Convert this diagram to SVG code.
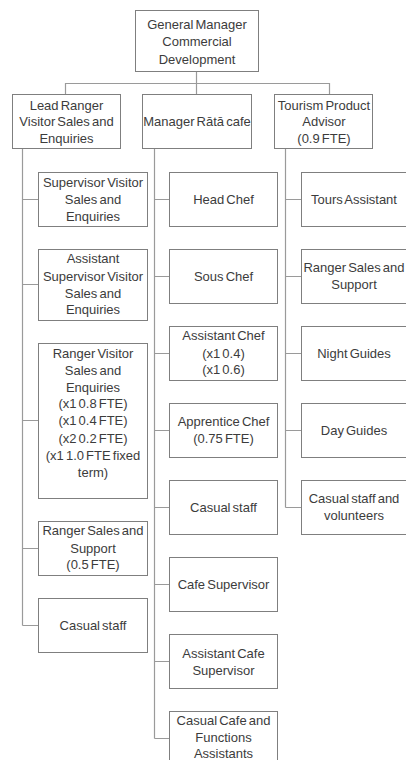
<svg xmlns="http://www.w3.org/2000/svg" width="406" height="760" viewBox="0 0 406 760">
<style>
.b{fill:#fff;stroke:#7f7f7f;stroke-width:1}
.c{fill:none;stroke:#9a9a9a;stroke-width:1.2}
text{font-family:"Liberation Sans",Arial,sans-serif;font-size:13px;fill:#3c3c3c;text-anchor:middle;word-spacing:-1.5px}
</style>
<rect width="406" height="760" fill="#fff"/>
<g id="connectors">
<path class="c" d="M196.5 71V94M65.5 83.5H329.5M65.5 83V94M329.5 83V94"/>
<path class="c" d="M22.5 148V625.5M22.5 199.5H38M22.5 284.5H38M22.5 420.5H38M22.5 548.5H38M22.5 625.5H38"/>
<path class="c" d="M154.5 148V738.5M154.5 199.5H169M154.5 276.5H169M154.5 353.5H169M154.5 430.5H169M154.5 507.5H169M154.5 584.5H169M154.5 661.5H169M154.5 738.5H169"/>
<path class="c" d="M285.5 148V507.5M285.5 199.5H301M285.5 276.5H301M285.5 353.5H301M285.5 430.5H301M285.5 507.5H301"/>
</g>
<g id="gm"><rect class="b" x="135.5" y="10.5" width="123" height="61"/><text x="197" y="28.5">General Manager</text><text x="197" y="46">Commercial</text><text x="197" y="63.5">Development</text></g>
<g id="lead"><rect class="b" x="12.5" y="94.5" width="108" height="54"/><text x="66.5" y="109.5">Lead Ranger</text><text x="66.5" y="126">Visitor Sales and</text><text x="66.5" y="143">Enquiries</text></g>
<g id="manager"><rect class="b" x="142.5" y="94.5" width="109" height="54"/><text x="197" y="126">Manager Rātā cafe</text></g>
<g id="tourism"><rect class="b" x="274.5" y="94.5" width="98" height="54"/><text x="324" y="109.5">Tourism Product</text><text x="324" y="126">Advisor</text><text x="324" y="143">(0.9 FTE)</text></g>

<g id="supervisor"><rect class="b" x="38.5" y="172.5" width="109" height="54"/><text x="93" y="186.5">Supervisor Visitor</text><text x="93" y="203.5">Sales and</text><text x="93" y="220.5">Enquiries</text></g>
<g id="asstsupervisor"><rect class="b" x="38.5" y="249.5" width="109" height="71"/><text x="93" y="263">Assistant</text><text x="93" y="280.5">Supervisor Visitor</text><text x="93" y="297.5">Sales and</text><text x="93" y="314">Enquiries</text></g>
<g id="rangervisitor"><rect class="b" x="38.5" y="343.5" width="109" height="155"/><text x="93" y="357.5">Ranger Visitor</text><text x="93" y="374.5">Sales and</text><text x="93" y="391.5">Enquiries</text><text x="93" y="408">(x1 0.8 FTE)</text><text x="93" y="425">(x1 0.4 FTE)</text><text x="93" y="442.5">(x2 0.2 FTE)</text><text x="93" y="459.5">(x1 1.0 FTE fixed</text><text x="93" y="477">term)</text></g>
<g id="rangersales1"><rect class="b" x="38.5" y="521.5" width="109" height="54"/><text x="93" y="535">Ranger Sales and</text><text x="93" y="552.5">Support</text><text x="93" y="569">(0.5 FTE)</text></g>
<g id="casual1"><rect class="b" x="38.5" y="598.5" width="109" height="54"/><text x="93" y="630">Casual staff</text></g>

<g id="headchef"><rect class="b" x="169.5" y="172.5" width="108" height="54"/><text x="223.5" y="204">Head Chef</text></g>
<g id="souschef"><rect class="b" x="169.5" y="249.5" width="108" height="54"/><text x="223.5" y="281">Sous Chef</text></g>
<g id="asstchef"><rect class="b" x="169.5" y="326.5" width="108" height="54"/><text x="223.5" y="339.5">Assistant Chef</text><text x="223.5" y="357.5">(x1 0.4)</text><text x="223.5" y="374">(x1 0.6)</text></g>
<g id="apprentice"><rect class="b" x="169.5" y="403.5" width="108" height="54"/><text x="223.5" y="425.5">Apprentice Chef</text><text x="223.5" y="443">(0.75 FTE)</text></g>
<g id="casual2"><rect class="b" x="169.5" y="480.5" width="108" height="54"/><text x="223.5" y="512">Casual staff</text></g>
<g id="cafesup"><rect class="b" x="169.5" y="557.5" width="108" height="54"/><text x="223.5" y="589">Cafe Supervisor</text></g>
<g id="asstcafesup"><rect class="b" x="169.5" y="634.5" width="108" height="54"/><text x="223.5" y="657.5">Assistant Cafe</text><text x="223.5" y="675">Supervisor</text></g>
<g id="casualcafe"><rect class="b" x="169.5" y="711.5" width="108" height="54"/><text x="223.5" y="725">Casual Cafe and</text><text x="223.5" y="741.5">Functions</text><text x="223.5" y="757.5">Assistants</text></g>

<g id="tours"><rect class="b" x="301.5" y="172.5" width="108" height="54"/><text x="354" y="204">Tours Assistant</text></g>
<g id="rangersales2"><rect class="b" x="301.5" y="249.5" width="108" height="54"/><text x="354" y="272">Ranger Sales and</text><text x="354" y="289">Support</text></g>
<g id="night"><rect class="b" x="301.5" y="326.5" width="108" height="54"/><text x="354" y="358">Night Guides</text></g>
<g id="day"><rect class="b" x="301.5" y="403.5" width="108" height="54"/><text x="354" y="435">Day Guides</text></g>
<g id="casual3"><rect class="b" x="301.5" y="480.5" width="108" height="54"/><text x="354" y="502.5">Casual staff and</text><text x="354" y="519.5">volunteers</text></g>
</svg>
